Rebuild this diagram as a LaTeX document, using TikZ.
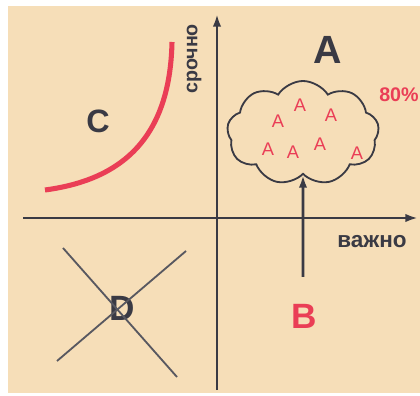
\documentclass[tikz,border=0pt]{standalone}
\usepackage{fontspec}
\setmainfont{Liberation Sans}
\usepackage{tikz}
\usetikzlibrary{arrows.meta, shapes.symbols}
\usepackage{xcolor}
\definecolor{paper}{RGB}{246,222,184}
\definecolor{ink}{RGB}{58,58,68}
\definecolor{hot}{RGB}{234,62,86}

\begin{document}
\begin{tikzpicture}[
    x=0.25mm, y=-0.25mm,
    letter/.style = {font=\bfseries\fontsize{25}{25}\selectfont, text=ink, inner sep=0pt},
    axislabel/.style = {font=\bfseries\fontsize{16}{16}\selectfont, text=ink, inner sep=0pt},
    small/.style = {font=\fontsize{13}{13}\selectfont, text=hot, inner sep=0pt},
    axis/.style = {-{Latex[length=9pt, width=6pt]}, line width=2pt, draw=ink},
    thin/.style = {line width=1.3pt, draw=ink!85},
    heap/.style = {draw=ink, line width=1.3pt, cloud, cloud puffs=9, cloud puff arc=115,
                   aspect=1.4, minimum width=38mm, minimum height=26mm, inner sep=0pt},
]
\useasboundingbox (0,0) rectangle (420,396);
\clip (0,0) rectangle (420,396);
\fill[white] (0,0) rectangle (420,396);
\fill[paper] (8,6) rectangle (420,393);

% axes
\coordinate (ybot) at (217,390);
\coordinate (ytop) at (217,14);
\coordinate (xleft) at (23,218);
\coordinate (xright) at (418,218);
\draw[axis] (ybot) -- (ytop);
\draw[axis] (xleft) -- (xright);
\node[axislabel, rotate=90, font=\bfseries\fontsize{14}{14}\selectfont] (urgent) at (194,59) {срочно};
\node[axislabel] (important) at (372,242) {важно};

% A: the heap
\node[letter, font=\bfseries\fontsize{28}{28}\selectfont] (A) at (328,50) {A};
\node[heap] (heap) at (303,133) {};
\foreach \name/\px/\py in {a1/278/121, a2/300/105, a3/331/115, a4/268/149,
                           a5/293/152, a6/320/144, a7/357/153}
  \node[small] (\name) at (\px,\py) {A};
\node[small, font=\bfseries\fontsize{14}{14}\selectfont, anchor=west] (share) at (379,95) {80\%};

% B
\node[letter, text=hot] (B) at (304,316) {B};
\coordinate (bfoot) at (303,277);
\draw[axis, line width=1.8pt] (bfoot) -- (heap.south);

% C
\node[letter, font=\bfseries\fontsize{23}{23}\selectfont] (C) at (98,121) {C};
\coordinate (ctop) at (172,42);
\coordinate (cend) at (45,190);
\draw[hot, line width=3.6pt] (ctop) .. controls (170,140) and (120,180) .. (cend);

% D, crossed out
\node[letter] (D) at (122,308) {D};
\coordinate (d1) at (63,248);
\coordinate (d2) at (177,377);
\coordinate (d3) at (186,251);
\coordinate (d4) at (57,361);
\draw[thin] (d1) -- (d2);
\draw[thin] (d3) -- (d4);
\end{tikzpicture}
\end{document}
